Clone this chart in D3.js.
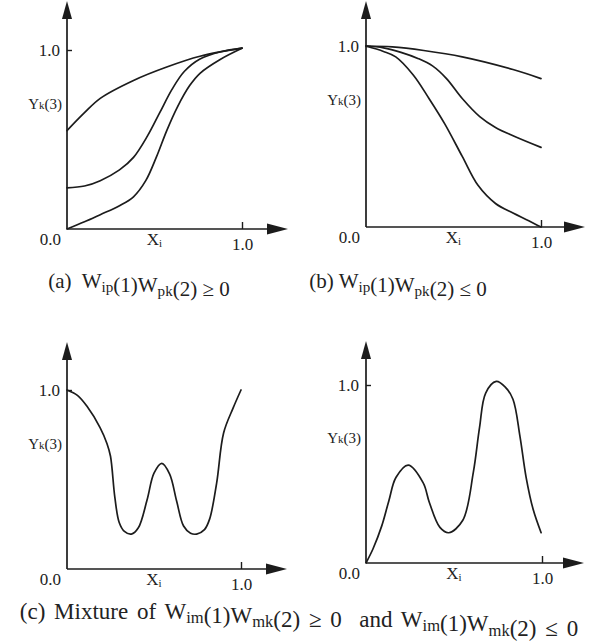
<!DOCTYPE html>
<meta charset="utf-8">
<html>
<head>
    <title>Yk(3) response curves</title>
    <script src="https://cdn.jsdelivr.net/npm/d3@7"></script>
</head>
<style>
    body{
        margin: 0;
        background: #fff;
    }
    svg{
        width: 596px;
        height: 643px;
        display: block;
    }
    svg text{
        font-family: "Liberation Serif", "Times New Roman", Times, serif;
        fill: #222;
    }
    .curve{
        fill: none;
        stroke: #1c1c1c;
        stroke-width: 1.7px;
        stroke-linejoin: round;
        stroke-linecap: round;
    }
    .axisline{
        stroke: #1c1c1c;
        stroke-width: 1.7px;
    }
    .tick line{
        stroke: #1c1c1c;
        stroke-width: 1.4px;
    }
    .tick text, .lbl{
        font-size: 17px;
    }
    .cap{
        font-size: 21px;
    }
    .capc{
        font-size: 23px;
        word-spacing: 3px;
    }
</style>
<body>
<svg font-family="Liberation Serif, serif"></svg>
<script>
    // ---- curves, [Xi, Yk(3)] ----
    const aTop = [[0,0.55],[0.1,0.65],[0.19,0.73],[0.38,0.83],[0.57,0.905],[0.76,0.965],[1,1.01]]
    const aMid = [[0,0.23],[0.1,0.24],[0.19,0.27],[0.3,0.33],[0.38,0.40],[0.46,0.52],[0.53,0.65],[0.6,0.78],[0.67,0.88],[0.76,0.95],[0.88,0.99],[1,1.01]]
    const aBot = [[0,0],[0.1,0.04],[0.19,0.08],[0.3,0.13],[0.38,0.18],[0.45,0.27],[0.51,0.40],[0.57,0.55],[0.63,0.68],[0.7,0.80],[0.76,0.87],[0.88,0.95],[1,1.01]]

    const bTop = [[0,1],[0.15,0.995],[0.33,0.975],[0.55,0.94],[0.84,0.87],[1,0.82]]
    const bMid = [[0,1],[0.1,0.99],[0.2,0.965],[0.3,0.93],[0.38,0.89],[0.46,0.82],[0.55,0.71],[0.65,0.61],[0.74,0.55],[0.85,0.50],[1,0.44]]
    const bBot = [[0,1],[0.1,0.97],[0.17,0.94],[0.27,0.84],[0.36,0.71],[0.45,0.57],[0.55,0.39],[0.64,0.23],[0.74,0.13],[0.84,0.077],[0.93,0.035],[1,0]]

    const cLine = [[0,1.0],[0.06,0.97],[0.114,0.91],[0.19,0.79],[0.23,0.70],[0.25,0.63],[0.275,0.40],[0.30,0.26],[0.33,0.21],[0.37,0.195],[0.41,0.23],[0.46,0.385],[0.50,0.535],[0.545,0.59],[0.59,0.53],[0.63,0.38],[0.67,0.24],[0.71,0.20],[0.745,0.195],[0.79,0.22],[0.82,0.28],[0.86,0.48],[0.90,0.76],[0.955,0.90],[1,1.0]]

    const dLine = [[0,0],[0.04,0.08],[0.09,0.21],[0.13,0.35],[0.17,0.48],[0.24,0.55],[0.325,0.45],[0.36,0.34],[0.42,0.20],[0.47,0.17],[0.55,0.24],[0.61,0.51],[0.645,0.76],[0.68,0.955],[0.74,1.02],[0.79,0.99],[0.835,0.92],[0.875,0.71],[0.91,0.48],[0.95,0.30],[0.995,0.17]]

    const tickVals = [1.0]
    const originLabel = "0.0"

    // ---- panel layout (pixels) ----
    const panels = [
        {x0: 67,  x1: 242, y0: 229, y1: 50,  xEnd: 288, yEnd: 1,   lines: [aTop, aMid, aBot]},
        {x0: 366, x1: 541, y0: 227, y1: 46,  xEnd: 585, yEnd: 1,   lines: [bTop, bMid, bBot]},
        {x0: 67,  x1: 241, y0: 569, y1: 390, xEnd: 287, yEnd: 342, lines: [cLine]},
        {x0: 366, x1: 542, y0: 563, y1: 385, xEnd: 584, yEnd: 341, lines: [dLine]}
    ]

    const svg = d3.select("svg")
    const serif = "Liberation Serif, Times New Roman, serif"

    panels.forEach(function (p){
        const x = d3.scaleLinear().domain([0, 1]).range([p.x0, p.x1])
        const y = d3.scaleLinear().domain([0, 1]).range([p.y0, p.y1])
        const g = svg.append("g")

        // axis lines
        g.append("line").attr("class","axisline")
            .attr("x1", p.x0).attr("y1", p.y0).attr("x2", p.xEnd - 12).attr("y2", p.y0)
        g.append("line").attr("class","axisline")
            .attr("x1", p.x0).attr("y1", p.y0).attr("x2", p.x0).attr("y2", p.yEnd + 8)

        // arrow heads
        g.append("path")
            .attr("d", `M${p.xEnd},${p.y0} L${p.xEnd-21},${p.y0-5.5} L${p.xEnd-21},${p.y0+5.5} Z`)
            .style("fill","#1c1c1c")
        g.append("path")
            .attr("d", `M${p.x0},${p.yEnd} L${p.x0-5},${p.yEnd+18} L${p.x0+5},${p.yEnd+18} Z`)
            .style("fill","#1c1c1c")

        // ticks at 1.0
        const yAxis = d3.axisLeft(y).tickValues(tickVals).tickFormat(d3.format(".1f"))
            .tickSizeInner(-5).tickSizeOuter(0).tickPadding(7)
        const xAxis = d3.axisBottom(x).tickValues(tickVals).tickFormat(d3.format(".1f"))
            .tickSizeInner(-7).tickSizeOuter(0).tickPadding(7)
        const ya = g.append("g").attr("transform", `translate(${p.x0},0)`).call(yAxis)
        const xa = g.append("g").attr("transform", `translate(0,${p.y0})`).call(xAxis)
        ya.select(".domain").remove()
        xa.select(".domain").remove()
        ya.attr("font-family", serif).attr("font-size", null)
        xa.attr("font-family", serif).attr("font-size", null)
        ya.selectAll(".tick text").attr("fill", null)
        xa.selectAll(".tick text").attr("fill", null).attr("y", 9)

        // origin label
        g.append("text").attr("class","lbl")
            .attr("x", p.x0 - 6).attr("y", p.y0 + 16)
            .attr("text-anchor","end")
            .text(originLabel)

        // Xi
        const xi = g.append("text").attr("class","lbl")
            .attr("x", x(0.5)).attr("y", p.y0 + 16)
            .attr("text-anchor","middle")
        xi.append("tspan").text("X")
        xi.append("tspan").attr("font-size","11px").attr("dy", 2).text("i")

        // Yk(3)
        const yk = g.append("text")
            .attr("x", p.x0 - 5).attr("y", y(0.7) + 5)
            .attr("text-anchor","end").style("font-size","15px")
        yk.append("tspan").text("Y")
        yk.append("tspan").attr("font-size","11px").text("k")
        yk.append("tspan").text("(3)")

        // curves
        const line = d3.line()
            .x(d => x(d[0]))
            .y(d => y(d[1]))
            .curve(d3.curveCatmullRom.alpha(0.5))
        g.selectAll("path.curve")
            .data(p.lines)
            .enter()
            .append("path")
            .attr("class","curve")
            .attr("d", line)
    })

    // ---- captions ----
    function sub(t, s){
        t.append("tspan").attr("font-size","0.72em").attr("dy", "0.25em").text(s)
        t.append("tspan").attr("dy", "-0.18em").text("")
    }
    function wTerm(t, a, b){
        t.append("tspan").text("W")
        sub(t, a)
        t.append("tspan").text("(1)W")
        sub(t, b)
        t.append("tspan").text("(2)")
    }

    const capA = svg.append("text").attr("class","cap").attr("x", 139).attr("y", 288).attr("text-anchor","middle")
    capA.append("tspan").text("(a)\u00a0 ")
    wTerm(capA, "ip", "pk")
    capA.append("tspan").text(" \u2265 0")

    const capB = svg.append("text").attr("class","cap").attr("x", 398).attr("y", 288).attr("text-anchor","middle")
    capB.append("tspan").text("(b) ")
    wTerm(capB, "ip", "pk")
    capB.append("tspan").text(" \u2264 0")

    const capC = svg.append("text").attr("class","capc").attr("x", 299).attr("y", 619).attr("text-anchor","middle")
    capC.append("tspan").text("(c) Mixture of ")
    wTerm(capC, "im", "mk")
    capC.append("tspan").text(" \u2265 0\u00a0 and ")
    wTerm(capC, "im", "mk")
    capC.append("tspan").text(" \u2264 0")
</script>
</body>
</html>
